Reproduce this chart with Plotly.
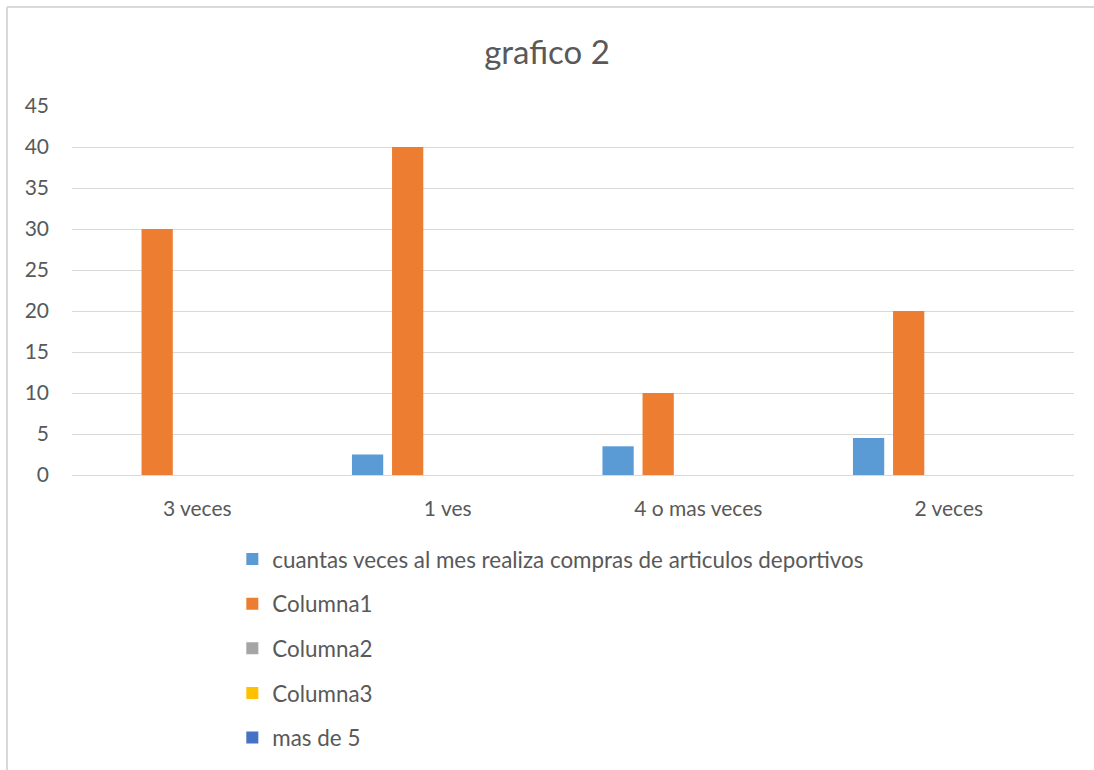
import plotly.graph_objects as go

categories = ["3 veces", "1 ves", "4 o mas veces", "2 veces"]
series_names = ["cuantas veces al mes realiza compras de articulos deportivos",
                "Columna1", "Columna2", "Columna3", "mas de 5"]
serie_compras = [0, 2.5, 3.5, 4.5]
columna1 = [30, 40, 10, 20]
columna2 = [0, 0, 0, 0]
columna3 = [0, 0, 0, 0]
mas_de_5 = [0, 0, 0, 0]
colors = ["#5b9bd5", "#ed7d31", "#a5a5a5", "#ffc000", "#4472c4"]
y_ticks = [0, 5, 10, 15, 20, 25, 30, 35, 40, 45]

values = [serie_compras, columna1, columna2, columna3, mas_de_5]
FONT = "Lato"
GREY = "#595959"

fig = go.Figure()
for i, (name, vals) in enumerate(zip(series_names, values)):
    fig.add_trace(go.Bar(
        x=categories, y=vals, name=name,
        marker=dict(color=colors[i], line=dict(width=0)),
        legendgroup=f"g{i}",
    ))

fig.update_layout(
    width=1094, height=770,
    paper_bgcolor="white", plot_bgcolor="white",
    margin=dict(l=72, r=20, t=106, b=295),
    barmode="group", bargap=0.2, bargroupgap=0.22,
    font=dict(family=FONT, color=GREY, size=21),
    title=dict(text="grafico 2", x=0.5, xanchor="center", y=0.932, yanchor="middle",
               font=dict(family=FONT, size=33, color=GREY)),
    legend=dict(orientation="v", x=0.16, xanchor="left",
                yref="container", y=1 - 538 / 770, yanchor="top",
                font=dict(family=FONT, size=22.4, color=GREY),
                traceorder="grouped", tracegroupgap=12.5,
                bgcolor="rgba(0,0,0,0)"),
    showlegend=True,
)
fig.update_xaxes(showgrid=False, showline=True, linecolor="#d9d9d9", linewidth=1,
                 ticks="", ticklabelstandoff=15,
                 tickfont=dict(family=FONT, size=21, color=GREY))
fig.update_yaxes(range=[0, 45], tickvals=y_ticks, showgrid=True, gridcolor="#d9d9d9",
                 gridwidth=1, zeroline=False, showline=False, ticks="",
                 ticklabelstandoff=22,
                 tickfont=dict(family=FONT, size=21, color=GREY))

# chart area border (top and left edges visible)
fig.add_shape(type="line", xref="paper", yref="paper",
              x0=(7 - 72) / 1002, x1=(1094 - 72) / 1002,
              y0=(475 - 7) / 369, y1=(475 - 7) / 369,
              line=dict(color="#d9d9d9", width=2))
fig.add_shape(type="line", xref="paper", yref="paper",
              x0=(7 - 72) / 1002, x1=(7 - 72) / 1002,
              y0=(475 - 7) / 369, y1=-(770 - 475) / 369,
              line=dict(color="#d9d9d9", width=2))

fig.write_html("out.html")
